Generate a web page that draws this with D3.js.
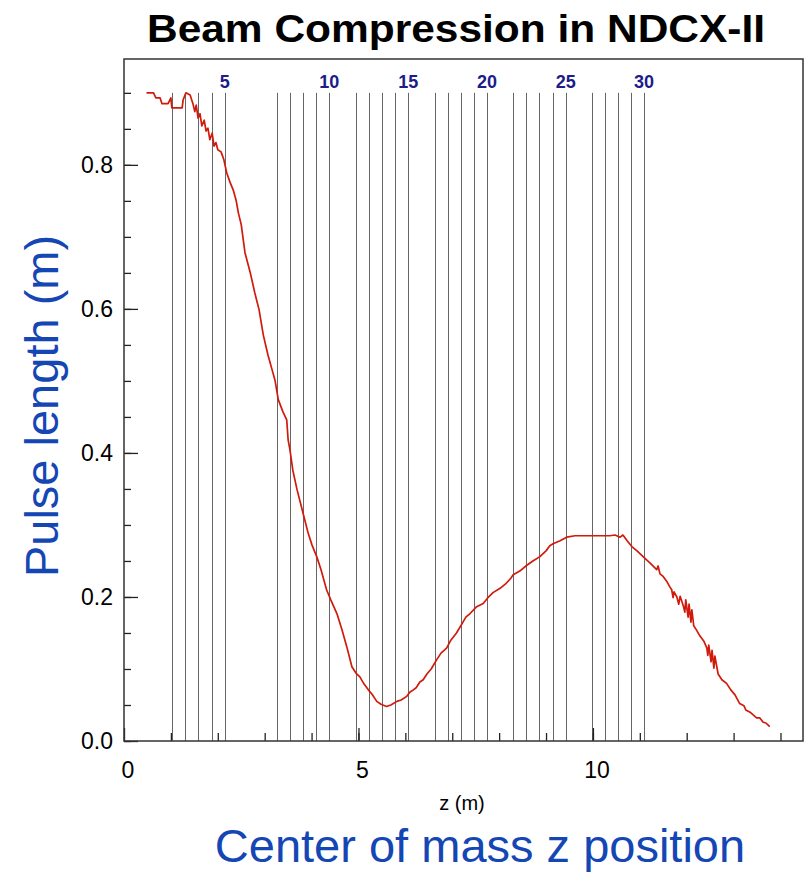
<!DOCTYPE html>
<html>
<head>
<meta charset="utf-8">
<script src="https://cdn.jsdelivr.net/npm/d3@7"></script>
<style>
  body { margin: 0; background: #fff; }
  svg { display: block; font-family: "Liberation Sans", Arial, sans-serif; }
</style>
</head>
<body>
<div id="chart"></div>
<script>
// lattice element (solenoid) positions along z, in m
const cellZ = [1.02, 1.30, 1.58, 1.87, 2.15,
  3.27, 3.55, 3.82, 4.10, 4.38,
  4.95, 5.22, 5.50, 5.78, 6.06,
  6.63, 6.90, 7.18, 7.46, 7.74,
  8.30, 8.58, 8.86, 9.14, 9.42,
  9.98, 10.26, 10.53, 10.82, 11.09];
const cellLabels = [5, 10, 15, 20, 25, 30];

// center of mass z (m) and pulse length (m)
const comZ = [0.48, 0.63, 0.68, 0.77, 0.81, 0.94, 1.00, 1.02, 1.24, 1.26, 1.32, 1.41,
  1.47, 1.51, 1.54, 1.58, 1.62, 1.66, 1.71, 1.75, 1.79, 1.83, 1.88, 1.92, 1.96, 2.00,
  2.07, 2.13, 2.19, 2.26, 2.33, 2.39, 2.44, 2.50, 2.58, 2.69, 2.79, 2.88, 2.97, 3.07,
  3.16, 3.22, 3.29, 3.39, 3.47, 3.50, 3.54, 3.60, 3.69, 3.82, 3.93, 4.01, 4.11, 4.20,
  4.32, 4.41, 4.54, 4.65, 4.75, 4.86, 4.95, 5.03, 5.12, 5.21, 5.29, 5.39, 5.48, 5.60,
  5.69, 5.82, 5.91, 6.03, 6.10, 6.17, 6.23, 6.31, 6.38, 6.46, 6.55, 6.67, 6.76, 6.88,
  6.97, 7.09, 7.21, 7.29, 7.38, 7.51, 7.66, 7.76, 7.87, 8.02, 8.15, 8.25, 8.30, 8.44,
  8.59, 8.72, 8.87, 9.00, 9.08, 9.15, 9.30, 9.44, 9.62, 9.79, 10.09, 10.36, 10.47, 10.58,
  10.64, 10.73, 10.83, 10.94, 11.07, 11.22, 11.36, 11.39, 11.43, 11.49, 11.58, 11.64,
  11.68, 11.71, 11.73, 11.79, 11.83, 11.86, 11.93, 11.96, 11.98, 12.03, 12.05, 12.09,
  12.11, 12.15, 12.21, 12.28, 12.37, 12.43, 12.45, 12.47, 12.52, 12.54, 12.58, 12.60,
  12.67, 12.75, 12.85, 12.94, 13.03, 13.13, 13.22, 13.26, 13.35, 13.49, 13.56, 13.63,
  13.69, 13.77];
const pulseLen = [0.900, 0.900, 0.893, 0.893, 0.885, 0.885, 0.893, 0.879, 0.879, 0.890, 0.900, 0.897,
  0.885, 0.874, 0.883, 0.865, 0.871, 0.854, 0.862, 0.847, 0.851, 0.835, 0.844, 0.826, 0.831, 0.821,
  0.818, 0.807, 0.789, 0.776, 0.765, 0.751, 0.733, 0.717, 0.678, 0.651, 0.622, 0.599, 0.564, 0.536,
  0.515, 0.501, 0.474, 0.457, 0.446, 0.418, 0.404, 0.376, 0.349, 0.316, 0.288, 0.272, 0.256, 0.238,
  0.210, 0.196, 0.177, 0.154, 0.131, 0.103, 0.094, 0.089, 0.079, 0.071, 0.065, 0.055, 0.051, 0.048,
  0.050, 0.055, 0.057, 0.062, 0.068, 0.071, 0.074, 0.082, 0.085, 0.093, 0.100, 0.113, 0.122, 0.129,
  0.140, 0.150, 0.163, 0.172, 0.177, 0.186, 0.191, 0.199, 0.206, 0.212, 0.219, 0.226, 0.231, 0.236,
  0.244, 0.250, 0.256, 0.264, 0.271, 0.274, 0.278, 0.283, 0.285, 0.285, 0.285, 0.285, 0.286, 0.283,
  0.286, 0.278, 0.270, 0.264, 0.256, 0.247, 0.238, 0.243, 0.232, 0.229, 0.221, 0.214,
  0.210, 0.199, 0.207, 0.200, 0.190, 0.201, 0.187, 0.179, 0.196, 0.172, 0.190, 0.165,
  0.182, 0.160, 0.154, 0.146, 0.138, 0.129, 0.119, 0.133, 0.110, 0.126, 0.101, 0.118,
  0.093, 0.085, 0.080, 0.071, 0.064, 0.052, 0.049, 0.043, 0.040, 0.032, 0.032, 0.026,
  0.025, 0.020];

const xMajor = [0, 5, 10];
const yMajor = [0, 0.2, 0.4, 0.6, 0.8];

const width = 808, height = 873;
const margin = {top: 59, right: 5, bottom: 132, left: 124};

const svg = d3.select("#chart")
  .append("svg")
  .attr("width", width)
  .attr("height", height);

const x = d3.scaleLinear().domain([0, 14.48]).range([margin.left, width - margin.right]);
const y = d3.scaleLinear().domain([0, 0.947]).range([height - margin.bottom, margin.top]);

// title
svg.append("text")
  .attr("x", 456)
  .attr("y", 42)
  .attr("text-anchor", "middle")
  .attr("font-weight", "bold")
  .attr("font-size", 39)
  .attr("textLength", 618)
  .attr("lengthAdjust", "spacingAndGlyphs")
  .text("Beam Compression in NDCX-II");

// lattice lines
svg.append("g")
  .attr("stroke", "#666")
  .attr("stroke-width", 1)
  .selectAll("line")
  .data(cellZ)
  .join("line")
  .attr("x1", d => Math.round(x(d)) + 0.5)
  .attr("x2", d => Math.round(x(d)) + 0.5)
  .attr("y1", y(0.9))
  .attr("y2", y(0));

svg.append("g")
  .attr("fill", "#1c1c8a")
  .attr("font-size", 18)
  .attr("font-weight", "bold")
  .attr("text-anchor", "middle")
  .selectAll("text")
  .data(cellLabels)
  .join("text")
  .attr("x", d => x(cellZ[d - 1]))
  .attr("y", 88)
  .text(d => d);

// beam curve
const line = d3.line()
  .x(d => x(d[0]))
  .y(d => y(d[1]));

svg.append("path")
  .datum(d3.zip(comZ, pulseLen))
  .attr("fill", "none")
  .attr("stroke", "#d01a0c")
  .attr("stroke-width", 1.7)
  .attr("stroke-linejoin", "round")
  .attr("d", line);

// axes (ticks inward)
const xAxisMinor = d3.axisBottom(x).tickValues(d3.range(1, 15)).tickSize(-8).tickFormat("");
const xAxisMajor = d3.axisBottom(x).tickValues(xMajor).tickSize(-13).tickFormat("");
const yAxisMinor = d3.axisLeft(y).tickValues(d3.range(0, 0.91, 0.05)).tickSize(-7).tickFormat("");
const yAxisMajor = d3.axisLeft(y).tickValues(yMajor).tickSize(-14).tickFormat("");

for (const ax of [xAxisMinor, xAxisMajor]) {
  svg.append("g")
    .attr("transform", `translate(0,${y(0)})`)
    .call(ax)
    .call(g => g.select(".domain").remove())
    .call(g => g.selectAll("line").attr("stroke", "#222").attr("stroke-width", 1.3));
}
for (const ax of [yAxisMinor, yAxisMajor]) {
  svg.append("g")
    .attr("transform", `translate(${x(0)},0)`)
    .call(ax)
    .call(g => g.select(".domain").remove())
    .call(g => g.selectAll("line").attr("stroke", "#222").attr("stroke-width", 1.3));
}

// tick labels
svg.append("g")
  .attr("font-size", 23)
  .attr("text-anchor", "middle")
  .selectAll("text")
  .data(xMajor)
  .join("text")
  .attr("x", d => x(d) + 4)
  .attr("y", 778)
  .text(d => d);

svg.append("g")
  .attr("font-size", 23)
  .attr("text-anchor", "end")
  .selectAll("text")
  .data(yMajor)
  .join("text")
  .attr("x", 113)
  .attr("y", d => y(d) + 8)
  .text(d => d.toFixed(1));

// frame
svg.append("rect")
  .attr("x", margin.left)
  .attr("y", margin.top)
  .attr("width", width - margin.left - margin.right)
  .attr("height", height - margin.top - margin.bottom)
  .attr("fill", "none")
  .attr("stroke", "#333")
  .attr("stroke-width", 1.5);

// axis titles
svg.append("text")
  .attr("x", 462)
  .attr("y", 810)
  .attr("text-anchor", "middle")
  .attr("font-size", 20)
  .text("z (m)");

svg.append("text")
  .attr("x", 480)
  .attr("y", 862)
  .attr("text-anchor", "middle")
  .attr("font-size", 47)
  .attr("fill", "#1446b4")
  .text("Center of mass z position");

svg.append("text")
  .attr("transform", "translate(58,406) rotate(-90)")
  .attr("text-anchor", "middle")
  .attr("font-size", 47)
  .attr("fill", "#1446b4")
  .text("Pulse length (m)");
</script>
</body>
</html>
